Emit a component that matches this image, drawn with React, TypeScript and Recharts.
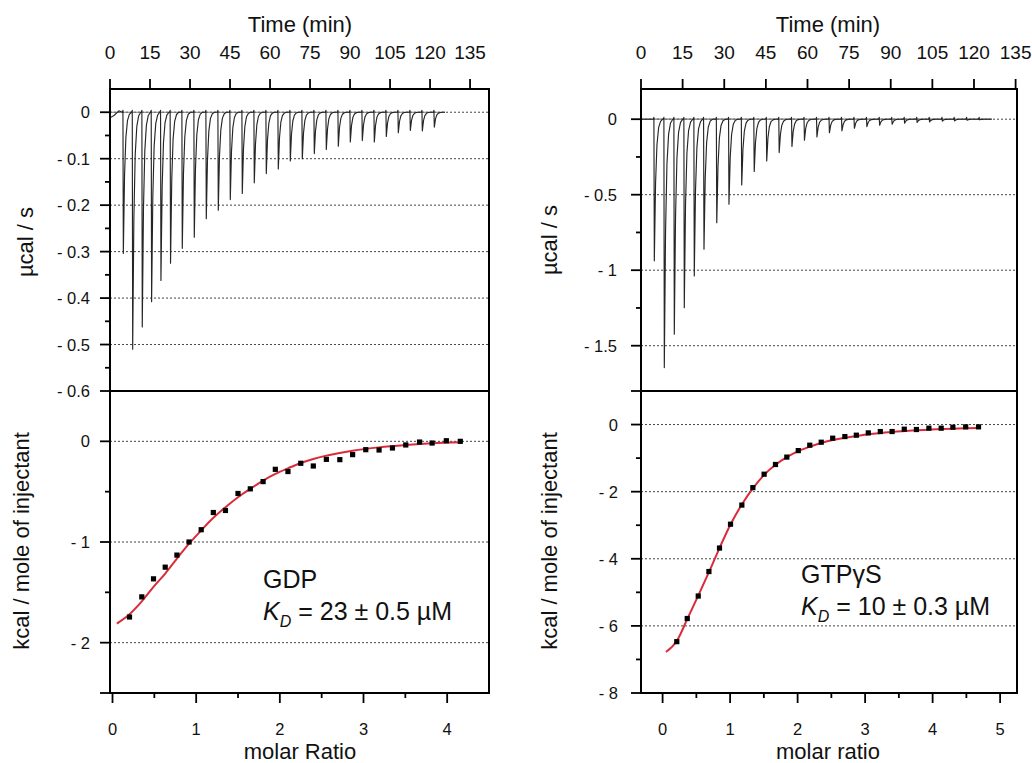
import React from 'react';
import { ComposedChart, Line, Scatter, XAxis, YAxis, ReferenceLine, ReferenceArea } from 'recharts';

const FONT = '"Liberation Sans", Arial, Helvetica, sans-serif';

// ---------- shared tick labels ----------
const timeTicks = [0, 15, 30, 45, 60, 75, 90, 105, 120, 135];

// ---------- GDP thermogram (left, top) ----------
const gdpInjectionTimes = [5.0, 8.5, 12.1, 15.6, 19.1, 22.7, 27.1, 31.6, 36.1, 40.6, 45.1, 49.6, 54.1, 58.6, 63.1, 67.6, 72.1, 76.6, 81.1, 85.6, 90.1, 94.6, 99.1, 103.6, 108.1, 112.6, 117.1, 121.6];
const gdpPeakHeights = [-0.304, -0.51, -0.462, -0.408, -0.362, -0.325, -0.293, -0.269, -0.229, -0.211, -0.188, -0.175, -0.152, -0.132, -0.122, -0.105, -0.1, -0.089, -0.08, -0.073, -0.064, -0.061, -0.064, -0.052, -0.044, -0.039, -0.04, -0.032];
const gdpTraceLead = [{ t: 0, v: -0.012 }, { t: 1.5, v: -0.007 }, { t: 3.3, v: 0.003 }];
const gdpTraceEnd = 125.6;
const gdpBlip = 0.004;
const gdpRawYLabeled = [0, -0.1, -0.2, -0.3, -0.4, -0.5, -0.6];
const gdpRawYMinor = [-0.05, -0.15, -0.25, -0.35, -0.45, -0.55];
const gdpRawGrid = [0, -0.1, -0.2, -0.3, -0.4, -0.5];

// ---------- GTPγS thermogram (right, top) ----------
const gtpInjectionTimes = [4.8, 8.4, 12.0, 15.6, 19.2, 22.7, 27.3, 31.7, 36.3, 40.8, 45.3, 49.8, 54.4, 58.9, 63.4, 67.9, 72.4, 76.9, 81.4, 86.0, 90.5, 95.0, 99.5, 104.0, 108.6, 113.0, 117.5, 122.0];
const gtpPeakHeights = [-0.938, -1.645, -1.424, -1.248, -1.038, -0.861, -0.685, -0.563, -0.435, -0.346, -0.276, -0.221, -0.181, -0.139, -0.117, -0.09, -0.077, -0.06, -0.049, -0.04, -0.033, -0.026, -0.022, -0.018, -0.013, -0.011, -0.007, -0.004];
const gtpTraceLead = [{ t: 0, v: 0 }];
const gtpTraceEnd = 126.4;
const gtpBlip = 0.012;
const gtpRawYLabeled = [0, -0.5, -1, -1.5];
const gtpRawYMinor = [-0.25, -0.75, -1.25];
const gtpRawGrid = [0, -0.5, -1, -1.5];

// injection peak profile (offset in min, fraction of peak)
const spikeOffsets = [-0.4, -0.15, 0, 0.45, 0.95, 1.55, 2.25, 3.05];
const spikeFractions = [0, 0, 1, 0.45, 0.18, 0.06, 0.015, 0];
const spikeBlipMask = [0, 1, 0, 0, 0, 0, 0, 0];

// ---------- GDP integrated heats (left, bottom) ----------
const gdpMolarRatio = [0.203, 0.35, 0.49, 0.63, 0.77, 0.915, 1.06, 1.205, 1.35, 1.5, 1.647, 1.8, 1.946, 2.097, 2.25, 2.4, 2.556, 2.717, 2.87, 3.027, 3.186, 3.346, 3.505, 3.67, 3.82, 3.99, 4.157];
const gdpHeat = [-1.745, -1.545, -1.366, -1.25, -1.13, -1.0, -0.878, -0.707, -0.687, -0.518, -0.472, -0.4, -0.278, -0.3, -0.218, -0.245, -0.179, -0.182, -0.132, -0.083, -0.086, -0.066, -0.036, -0.007, -0.017, 0.006, 0.0];
const gdpFitX = [0.052, 0.2, 0.35, 0.49, 0.63, 0.77, 0.915, 1.06, 1.205, 1.35, 1.5, 1.647, 1.8, 1.946, 2.097, 2.25, 2.4, 2.556, 2.87, 3.186, 3.505, 3.82, 4.157];
const gdpFitY = [-1.81, -1.72, -1.59, -1.446, -1.314, -1.165, -1.017, -0.885, -0.76, -0.654, -0.555, -0.472, -0.39, -0.324, -0.268, -0.215, -0.175, -0.142, -0.093, -0.06, -0.037, -0.02, -0.01];
const gdpXLabeled = [0, 1, 2, 3, 4];
const gdpXMinor = [0.5, 1.5, 2.5, 3.5];
const gdpYLabeled = [0, -1, -2];
const gdpYMinor = [-0.5, -1.5];
const gdpYLongUnlabeled = [-2.5];
const gdpGrid = [0, -1, -2];

// ---------- GTPγS integrated heats (right, bottom) ----------
const gtpMolarRatio = [0.21, 0.365, 0.528, 0.686, 0.843, 1.006, 1.174, 1.337, 1.504, 1.672, 1.84, 2.01, 2.18, 2.35, 2.52, 2.7, 2.87, 3.047, 3.225, 3.4, 3.58, 3.76, 3.945, 4.127, 4.3, 4.49, 4.68];
const gtpHeat = [-6.47, -5.78, -5.11, -4.38, -3.68, -2.97, -2.4, -1.88, -1.48, -1.19, -0.97, -0.776, -0.615, -0.526, -0.406, -0.358, -0.317, -0.248, -0.208, -0.208, -0.138, -0.148, -0.108, -0.108, -0.079, -0.069, -0.069];
const gtpFitX = [0.05, 0.21, 0.365, 0.528, 0.686, 0.843, 1.006, 1.174, 1.337, 1.504, 1.672, 1.84, 2.01, 2.18, 2.35, 2.52, 2.7, 2.87, 3.05, 3.4, 3.76, 4.13, 4.49, 4.68];
const gtpFitY = [-6.78, -6.45, -5.8, -5.1, -4.4, -3.68, -2.98, -2.38, -1.9, -1.5, -1.2, -0.97, -0.79, -0.66, -0.55, -0.46, -0.39, -0.34, -0.29, -0.22, -0.17, -0.13, -0.11, -0.1];
const gtpXLabeled = [0, 1, 2, 3, 4, 5];
const gtpXMinor = [0.5, 1.5, 2.5, 3.5, 4.5];
const gtpYLabeled = [0, -2, -4, -6, -8];
const gtpYMinor = [-1, -3, -5, -7];
const gtpYLongUnlabeled = [1];
const gtpGrid = [0, -2, -4, -6];

// ---------- builders ----------
type TV = { t: number; v: number };
function buildTrace(lead: TV[], times: number[], peaks: number[], blip: number, end: number): TV[] {
  const pts: TV[] = [...lead];
  times.forEach((t0, i) => {
    spikeOffsets.forEach((o, k) => {
      pts.push({ t: t0 + o, v: peaks[i] * spikeFractions[k] + blip * spikeBlipMask[k] });
    });
  });
  pts.push({ t: end, v: 0 });
  return pts;
}
const zip = (xs: number[], ys: number[]) => xs.map((x, i) => ({ x, y: ys[i] }));

const gdpTrace = buildTrace(gdpTraceLead, gdpInjectionTimes, gdpPeakHeights, gdpBlip, gdpTraceEnd);
const gtpTrace = buildTrace(gtpTraceLead, gtpInjectionTimes, gtpPeakHeights, gtpBlip, gtpTraceEnd);
const gdpBaseline = [{ t: 0, v: 0 }, { t: gdpTraceEnd, v: 0 }];
const gtpBaseline = [{ t: 0, v: 0 }, { t: gtpTraceEnd, v: 0 }];
const gdpPoints = zip(gdpMolarRatio, gdpHeat);
const gdpFit = zip(gdpFitX, gdpFitY);
const gtpPoints = zip(gtpMolarRatio, gtpHeat);
const gtpFit = zip(gtpFitX, gtpFitY);

// ---------- ticks ----------
const near = (a: number[], v: number) => a.some((m) => Math.abs(m - v) < 1e-6);
const fmt = (v: number) => (Math.abs(v) < 1e-9 ? '0' : v < 0 ? `- ${+Math.abs(v).toFixed(2)}` : `${v}`);
const TICK_W = 1.8;

function leftTick(labeled: number[], longs: number[], T: number, M: number) {
  return (p: any) => {
    const v = p.payload.value;
    const ax = p.x + T + M;
    const isLab = near(labeled, v);
    const len = isLab || near(longs, v) ? 10 : 5;
    return (
      <g>
        <line x1={ax - len} x2={ax} y1={p.y} y2={p.y} stroke="#000" strokeWidth={TICK_W} />
        {isLab && (
          <text x={p.x} y={p.y} textAnchor="end" dominantBaseline="central" fontSize={16.5} fill="#111" fontFamily={FONT}>
            {fmt(v)}
          </text>
        )}
      </g>
    );
  };
}
function bottomTick(labeled: number[], T: number, M: number) {
  return (p: any) => {
    const v = p.payload.value;
    const ax = p.y - T - M;
    const isLab = near(labeled, v);
    const len = isLab ? 10 : 5;
    return (
      <g>
        <line x1={p.x} x2={p.x} y1={ax} y2={ax + len} stroke="#000" strokeWidth={TICK_W} />
        {isLab && (
          <text x={p.x} y={p.y} textAnchor="middle" fontSize={16.5} fill="#111" fontFamily={FONT}>
            {fmt(v)}
          </text>
        )}
      </g>
    );
  };
}
function topTick(T: number, M: number) {
  return (p: any) => {
    const v = p.payload.value;
    const ax = p.y + T + M;
    return (
      <g>
        <line x1={p.x} x2={p.x} y1={ax - 10} y2={ax} stroke="#000" strokeWidth={TICK_W} />
        <text x={p.x} y={p.y} textAnchor="middle" fontSize={19} fill="#111" fontFamily={FONT}>
          {`${v}`}
        </text>
      </g>
    );
  };
}

const SquareDot = (p: any) => <rect x={p.cx - 2.6} y={p.cy - 2.6} width={5.2} height={5.2} fill="#000" />;

const AXIS_LINE = { stroke: '#000', strokeWidth: 2 };
const GRID_STYLE = { stroke: '#444', strokeDasharray: '2 2', strokeWidth: 1 };

function RawPanel(props: {
  left: number; width: number; yAxisW: number; right: number; xMax: number;
  yDomain: [number, number]; yLabeled: number[]; yMinor: number[]; grid: number[]; M: number;
  trace: TV[]; baseline: TV[];
}) {
  const { left, width, yAxisW, right, xMax, yDomain, yLabeled, yMinor, grid, M, trace, baseline } = props;
  return (
    <div style={{ position: 'absolute', left, top: 0, zIndex: 2 }}>
      <ComposedChart width={width} height={402} margin={{ top: 0, right, bottom: 11, left: 0 }}>
        <XAxis type="number" dataKey="t" orientation="top" domain={[0, xMax]} allowDataOverflow ticks={timeTicks}
          interval={0} height={89} tickSize={10} tickMargin={20} tickLine={false} tick={topTick(10, 20)} axisLine={AXIS_LINE} />
        <YAxis type="number" dataKey="v" domain={yDomain} allowDataOverflow ticks={[...yLabeled, ...yMinor]} interval={0}
          width={yAxisW} tickSize={10} tickMargin={M} tickLine={false} tick={leftTick(yLabeled, [], 10, M)} axisLine={AXIS_LINE} />
        {grid.map((g) => (
          <ReferenceLine key={g} y={g} {...GRID_STYLE} />
        ))}
        <Line data={baseline} dataKey="v" type="linear" stroke="#777" strokeWidth={1.2} dot={false} isAnimationActive={false} />
        <Line data={trace} dataKey="v" type="linear" stroke="#262626" strokeWidth={1.15} dot={false} isAnimationActive={false} strokeLinejoin="round" />
        <ReferenceArea x1={0} x2={xMax} y1={yDomain[0]} y2={yDomain[1]} fill="none" stroke="#000" strokeWidth={2} ifOverflow="visible" />
      </ComposedChart>
    </div>
  );
}

function HeatPanel(props: {
  left: number; width: number; yAxisW: number; right: number; xDomain: [number, number];
  xLabeled: number[]; xMinor: number[]; yDomain: [number, number]; yLabeled: number[]; yMinor: number[];
  yLong: number[]; grid: number[]; M: number; points: { x: number; y: number }[]; fit: { x: number; y: number }[];
}) {
  const { left, width, yAxisW, right, xDomain, xLabeled, xMinor, yDomain, yLabeled, yMinor, yLong, grid, M, points, fit } = props;
  return (
    <div style={{ position: 'absolute', left, top: 380, zIndex: 1 }}>
      <ComposedChart width={width} height={383} margin={{ top: 11, right, bottom: 0, left: 0 }}>
        <XAxis type="number" dataKey="x" domain={xDomain} allowDataOverflow ticks={[...xLabeled, ...xMinor]} interval={0}
          height={70} tickSize={10} tickMargin={32} tickLine={false} tick={bottomTick(xLabeled, 10, 32)} axisLine={AXIS_LINE} />
        <YAxis type="number" dataKey="y" domain={yDomain} allowDataOverflow ticks={[...yLabeled, ...yMinor, ...yLong]} interval={0}
          width={yAxisW} tickSize={10} tickMargin={M} tickLine={false} tick={leftTick(yLabeled, yLong, 10, M)} axisLine={AXIS_LINE} />
        {grid.map((g) => (
          <ReferenceLine key={g} y={g} {...GRID_STYLE} />
        ))}
        <Line data={fit} dataKey="y" type="monotone" stroke="#d92b3a" strokeWidth={2} dot={false} isAnimationActive={false} />
        <Scatter data={points} shape={SquareDot} isAnimationActive={false} />
        <ReferenceArea x1={xDomain[0]} x2={xDomain[1]} y1={yDomain[0]} y2={yDomain[1]} fill="none" stroke="#000" strokeWidth={2} ifOverflow="visible" />
      </ComposedChart>
    </div>
  );
}

export default function App() {
  return (
    <div style={{ position: 'absolute', left: 0, top: 0, width: 1032, height: 763, background: '#fff', fontFamily: FONT, overflow: 'hidden' }}>
      <HeatPanel left={0} width={500} yAxisW={110} right={11} xDomain={[-0.03, 4.5]} xLabeled={gdpXLabeled} xMinor={gdpXMinor}
        yDomain={[-2.5, 0.5]} yLabeled={gdpYLabeled} yMinor={gdpYMinor} yLong={gdpYLongUnlabeled} grid={gdpGrid} M={10}
        points={gdpPoints} fit={gdpFit} />
      <HeatPanel left={520} width={512} yAxisW={121} right={15} xDomain={[-0.32, 5.25]} xLabeled={gtpXLabeled} xMinor={gtpXMinor}
        yDomain={[-8, 1]} yLabeled={gtpYLabeled} yMinor={gtpYMinor} yLong={gtpYLongUnlabeled} grid={gtpGrid} M={13}
        points={gtpPoints} fit={gtpFit} />
      <RawPanel left={0} width={500} yAxisW={110} right={11} xMax={142.1} yDomain={[-0.6, 0.05]}
        yLabeled={gdpRawYLabeled} yMinor={gdpRawYMinor} grid={gdpRawGrid} M={10} trace={gdpTrace} baseline={gdpBaseline} />
      <RawPanel left={520} width={512} yAxisW={121} right={15} xMax={135.5} yDomain={[-1.8, 0.2]}
        yLabeled={gtpRawYLabeled} yMinor={gtpRawYMinor} grid={gtpRawGrid} M={14} trace={gtpTrace} baseline={gtpBaseline} />
      <svg width={1032} height={763} style={{ position: 'absolute', left: 0, top: 0, pointerEvents: 'none', zIndex: 3 }} fontFamily={FONT} fill="#111">
        <text x={300} y={32} fontSize={22} textAnchor="middle">Time (min)</text>
        <text x={828} y={32} fontSize={22} textAnchor="middle">Time (min)</text>
        <text x={33} y={242} fontSize={22} textAnchor="middle" transform="rotate(-90 33 242)">µcal / s</text>
        <text x={557} y={240} fontSize={22} textAnchor="middle" transform="rotate(-90 557 240)">µcal / s</text>
        <text x={29} y={541} fontSize={22} textAnchor="middle" transform="rotate(-90 29 541)">kcal / mole of injectant</text>
        <text x={557} y={541} fontSize={22} textAnchor="middle" transform="rotate(-90 557 541)">kcal / mole of injectant</text>
        <text x={300} y={759} fontSize={22} textAnchor="middle">molar Ratio</text>
        <text x={828} y={759} fontSize={22} textAnchor="middle">molar ratio</text>
        <text x={263} y={588} fontSize={25}>GDP</text>
        <text x={263} y={620} fontSize={25} style={{ whiteSpace: 'pre' }}>
          <tspan fontStyle="italic">K</tspan>
          <tspan fontStyle="italic" fontSize={16} dy={7}>D</tspan>
          <tspan dy={-7}>{' = 23 ± 0.5 µM'}</tspan>
        </text>
        <text x={801} y={583} fontSize={25}>GTPγS</text>
        <text x={801} y={615} fontSize={25} style={{ whiteSpace: 'pre' }}>
          <tspan fontStyle="italic">K</tspan>
          <tspan fontStyle="italic" fontSize={16} dy={7}>D</tspan>
          <tspan dy={-7}>{' = 10 ± 0.3 µM'}</tspan>
        </text>
      </svg>
    </div>
  );
}
